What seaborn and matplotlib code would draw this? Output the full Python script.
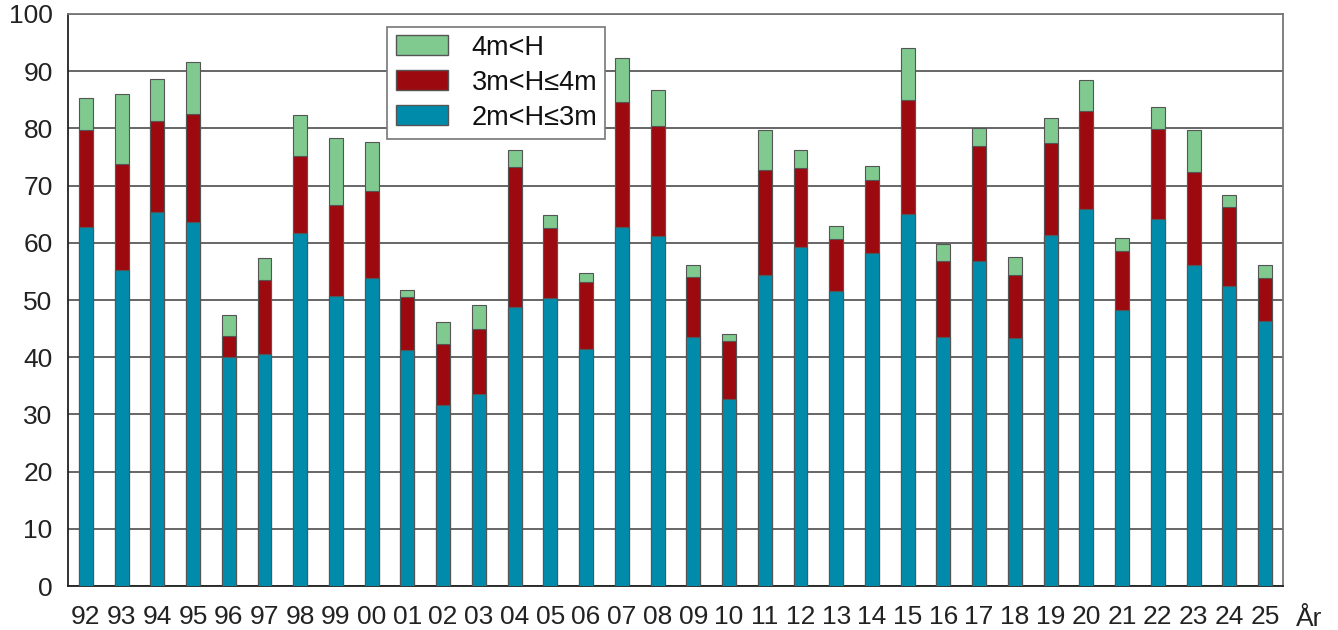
import matplotlib
matplotlib.use("Agg")
import matplotlib.pyplot as plt
import seaborn as sns
import pandas as pd
import numpy as np
from matplotlib.patches import Patch
from matplotlib.ticker import FixedLocator

years = ["92", "93", "94", "95", "96", "97", "98", "99", "00", "01", "02", "03",
         "04", "05", "06", "07", "08", "09", "10", "11", "12", "13", "14", "15",
         "16", "17", "18", "19", "20", "21", "22", "23", "24", "25"]
h_2_3 = [62.8, 55.2, 65.4, 63.7, 40.1, 40.5, 61.8, 50.7, 53.9, 41.3, 31.6, 33.5,
         48.7, 50.4, 41.4, 62.8, 61.2, 43.5, 32.7, 54.3, 59.2, 51.6, 58.2, 65.0,
         43.6, 56.9, 43.4, 61.3, 65.9, 48.2, 64.2, 56.2, 52.4, 46.4]
h_3_4 = [16.9, 18.5, 15.9, 18.9, 3.6, 13.0, 13.3, 15.9, 15.2, 9.2, 10.7, 11.4,
         24.6, 12.2, 11.7, 21.8, 19.3, 10.6, 10.1, 18.5, 13.9, 9.1, 12.7, 20.0,
         13.2, 20.0, 11.0, 16.1, 17.1, 10.3, 15.7, 16.1, 13.8, 7.4]
h_4 = [5.7, 12.3, 7.3, 9.0, 3.6, 3.8, 7.3, 11.7, 8.5, 1.2, 3.9, 4.2,
       3.0, 2.3, 1.6, 7.7, 6.2, 2.1, 1.3, 6.9, 3.2, 2.2, 2.5, 9.0,
       3.0, 3.2, 3.1, 4.5, 5.5, 2.4, 3.8, 7.4, 2.2, 2.4]
labels = ["4m<H", "3m<H≤4m", "2m<H≤3m"]
yticks = [0, 10, 20, 30, 40, 50, 60, 70, 80, 90, 100]

c_green = "#80C98F"
c_red = "#9C0A0F"
c_blue = "#008BAA"

df = pd.DataFrame({"year": years, "b": h_2_3, "r": h_3_4, "g": h_4})
df["top_r"] = df["b"] + df["r"]
df["top_g"] = df["top_r"] + df["g"]

sns.set_theme(style="white")
plt.rcParams["font.family"] = ["Liberation Sans", "DejaVu Sans"]

fig = plt.figure(figsize=(13.38, 6.3), dpi=100)
ax = fig.add_axes([0.0508, 0.0698, 0.9080, 0.9080])

edge = "#555555"
for col, color in [("top_g", c_green), ("top_r", c_red), ("b", c_blue)]:
    sns.barplot(data=df, x="year", y=col, color=color, width=0.39, ax=ax,
                edgecolor=edge, linewidth=0.8, saturation=1, zorder=3)

ax.set_xlim(-0.5, len(years) - 0.5)
ax.set_ylim(0, 100)
ax.set_yticks(yticks)
ax.set_yticklabels([str(t) for t in yticks], fontsize=19, color="#222222")
ax.yaxis.grid(True, color="#5a5a5a", linewidth=1.3, zorder=0)
ax.xaxis.grid(False)
ax.set_axisbelow(True)
ax.tick_params(axis="y", length=0, pad=11)
ax.tick_params(axis="x", which="major", length=0, pad=14, labelsize=19, labelcolor="#222222")
ax.xaxis.set_minor_locator(FixedLocator(np.arange(-0.5, len(years), 1.0)))
ax.tick_params(axis="x", which="minor", length=8, width=1.2, color="#333333", direction="out")
ax.set_xlabel("")
ax.set_ylabel("")

for s in ["left", "bottom"]:
    ax.spines[s].set_color("#222222")
    ax.spines[s].set_linewidth(1.3)
for s in ["top", "right"]:
    ax.spines[s].set_color("#777777")
    ax.spines[s].set_linewidth(1.3)

ax.text(1.011, -0.070, "År", transform=ax.transAxes, fontsize=19, color="#222222",
        ha="left", va="baseline")

handles = [Patch(facecolor=c_green, edgecolor=edge),
           Patch(facecolor=c_red, edgecolor=edge),
           Patch(facecolor=c_blue, edgecolor=edge)]
leg = ax.legend(handles, labels, loc="upper left", bbox_to_anchor=(0.263, 0.978),
                fontsize=19.5, frameon=True, fancybox=False, framealpha=1,
                edgecolor="#777777", handlelength=1.95, handleheight=0.75,
                handletextpad=0.85, labelspacing=0.33, borderpad=0.3, borderaxespad=0)
leg.get_frame().set_linewidth(1.2)
leg.set_zorder(5)
for t in leg.get_texts():
    t.set_color("#111111")

fig.savefig("out.png", dpi=100)
